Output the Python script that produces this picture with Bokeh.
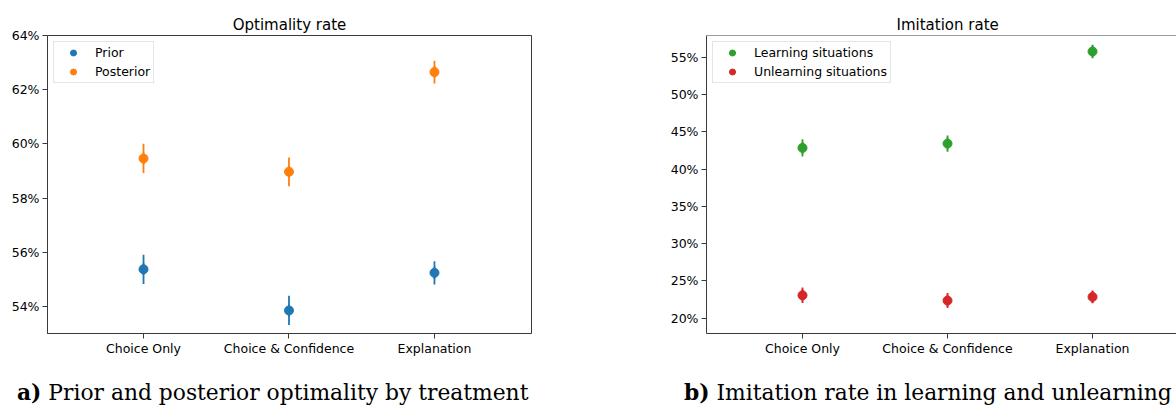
import math
from bokeh.plotting import figure
from bokeh.models import (FixedTicker, PrintfTickFormatter, Span, Legend,
                          LegendItem, ColumnDataSource, Range1d, Div)
from bokeh.layouts import row, column
from bokeh.embed import file_html
from bokeh.resources import INLINE

# ---------------- data ----------------
categories = ["Choice Only", "Choice & Confidence", "Explanation"]

prior = [55.37, 53.85, 55.24]
prior_err = [0.54, 0.54, 0.43]
posterior = [59.46, 58.97, 62.65]
posterior_err = [0.54, 0.53, 0.42]

learning = [42.86, 43.44, 55.80]
learning_err = [1.16, 1.10, 0.92]
unlearning = [23.08, 22.37, 22.86]
unlearning_err = [1.03, 1.00, 0.85]

opt_ticks = [54, 56, 58, 60, 62, 64]
imit_ticks = [20, 25, 30, 35, 40, 45, 50, 55]

titles = ["Optimality rate", "Imitation rate"]
cap_tags = ["a)", "b)"]
cap_texts = ["Prior and posterior optimality by treatment",
             "Imitation rate in learning and unlearning"]

# ---------------- style ----------------
BLUE, ORANGE, GREEN, RED = "#1f77b4", "#ff7f0e", "#2ca02c", "#d62728"
SPINE = "#3a3a3a"
SANS = "DejaVu Sans"
TICK_FS = "12.5px"
FIG_H = 360


def make_fig(width, ml, mr, xr, yr, yticks, series, title, title_align,
             title_offset, outline=True):
    p = figure(width=width, height=FIG_H, x_range=Range1d(*xr), y_range=Range1d(*yr),
               output_backend="svg", toolbar_location=None,
               min_border_left=ml, min_border_right=mr,
               min_border_top=35, min_border_bottom=FIG_H - 35 - 298,
               title=title)
    p.title.align = title_align
    p.title.offset = title_offset
    p.title.standoff = 4
    p.title.text_font = SANS
    p.title.text_font_size = "15px"
    p.title.text_font_style = "normal"
    p.title.text_color = "black"

    p.background_fill_color = "white"
    p.border_fill_color = "white"
    p.xgrid.visible = False
    p.ygrid.visible = False
    p.outline_line_color = SPINE if outline else None
    p.outline_line_width = 1

    xs = list(range(len(categories)))
    items = []
    for name, vals, errs, col in series:
        src = ColumnDataSource(dict(
            x=xs, y=vals,
            lo=[v - e for v, e in zip(vals, errs)],
            hi=[v + e for v, e in zip(vals, errs)]))
        p.segment(x0="x", y0="lo", x1="x", y1="hi", source=src,
                  line_color=col, line_width=1.8)
        # short vertical bar (hidden under the error bar) -> errorbar legend key
        bar = p.scatter("x", "y", source=src, marker="dash", angle=math.pi / 2,
                        size=12, line_color=col, line_width=1.8)
        sc = p.scatter("x", "y", source=src, size=9, fill_color=col,
                       line_color=col)
        items.append(LegendItem(label=name, renderers=[bar, sc]))

    leg = Legend(items=items, location="top_left")
    leg.margin = 6
    leg.padding = 3
    leg.spacing = 4
    leg.glyph_width = 32
    leg.glyph_height = 15
    leg.label_height = 15
    leg.label_standoff = 6
    leg.label_text_font = SANS
    leg.label_text_font_size = TICK_FS
    leg.label_text_color = "black"
    leg.border_line_color = "#cccccc"
    leg.border_line_width = 1
    leg.background_fill_alpha = 0.8
    p.add_layout(leg)

    for ax in (p.xaxis, p.yaxis):
        ax.axis_line_color = SPINE
        ax.axis_line_width = 1
        ax.major_tick_line_color = SPINE
        ax.major_tick_in = 0
        ax.major_tick_out = 5
        ax.minor_tick_out = 0
        ax.minor_tick_in = 0
        ax.major_label_text_font = SANS
        ax.major_label_text_font_size = TICK_FS
        ax.major_label_text_color = "black"
    p.xaxis.major_label_standoff = 2
    p.yaxis.major_label_standoff = 3

    p.xaxis.ticker = FixedTicker(ticks=xs)
    p.xaxis.major_label_overrides = {i: c for i, c in enumerate(categories)}
    p.yaxis.ticker = FixedTicker(ticks=yticks)
    p.yaxis.formatter = PrintfTickFormatter(format="%d%%")

    if not outline:
        p.add_layout(Span(location=yr[1], dimension="width",
                          line_color=SPINE, line_width=1))
    return p


p1 = make_fig(660, 47, 129, (-0.66, 2.667), (53.0, 64.0), opt_ticks,
              [("Prior", prior, prior_err, BLUE),
               ("Posterior", posterior, posterior_err, ORANGE)],
              titles[0], "center", 0, outline=True)

p2 = make_fig(516, 46, 0, (-0.662, 2.579), (17.95, 57.95), imit_ticks,
              [("Learning situations", learning, learning_err, GREEN),
               ("Unlearning situations", unlearning, unlearning_err, RED)],
              titles[1], "left", 190, outline=False)


def caption(tag, text, width, pad_left):
    html = ('<div style="padding-left:%dpx; padding-top:17px; '
            'font-family:\'DejaVu Serif\'; font-size:21.8px; line-height:22px; '
            'color:black; white-space:nowrap;"><b>%s</b> %s</div>'
            % (pad_left, tag, text))
    return Div(text=html, width=width, height=405 - FIG_H)


d1 = caption(cap_tags[0], cap_texts[0], 660, 12)
d2 = caption(cap_tags[1], cap_texts[1], 516, 9)

layout = column(row(p1, p2), row(d1, d2))
open("out.html", "w").write(file_html(layout, INLINE))
